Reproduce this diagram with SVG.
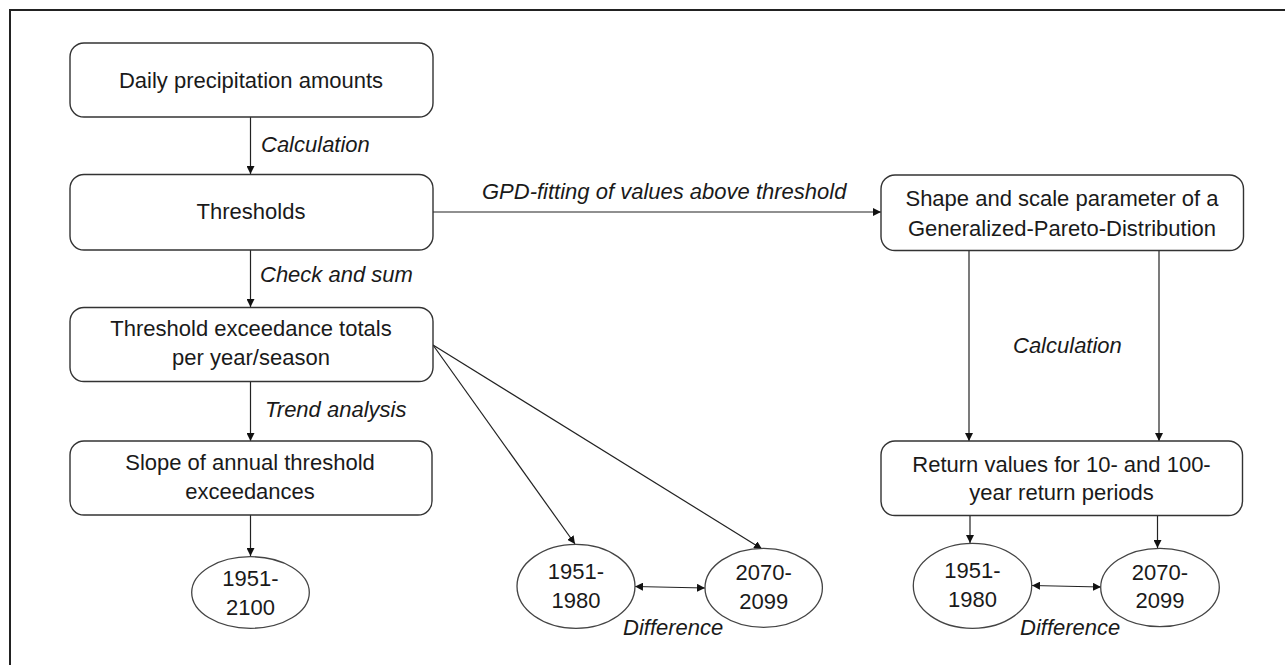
<svg xmlns="http://www.w3.org/2000/svg" width="1285" height="665" viewBox="0 0 1285 665">
<style>
.box{fill:#fff;stroke:#333;stroke-width:1.4}
.ell{fill:#fff;stroke:#444;stroke-width:1.3}
.t{font-family:"Liberation Sans",Arial,sans-serif;font-size:22px;fill:#1a1a1a;text-anchor:middle}
.lbl{font-family:"Liberation Sans",Arial,sans-serif;font-size:22px;font-style:italic;fill:#1a1a1a}
.c{fill:none;stroke:#222;stroke-width:1.2}
</style>
<defs>
<marker id="ah" viewBox="0 0 10 10" refX="10" refY="5" markerWidth="8" markerHeight="8" markerUnits="userSpaceOnUse" orient="auto">
<path d="M0,0 L10,5 L0,10 z" fill="#111"/>
</marker>
<marker id="as" viewBox="0 0 10 10" refX="0" refY="5" markerWidth="8" markerHeight="8" markerUnits="userSpaceOnUse" orient="auto">
<path d="M10,0 L0,5 L10,10 z" fill="#111"/>
</marker>
</defs>
<rect width="1285" height="665" fill="#fff"/>
<path d="M10,665 V10 H1285" fill="none" stroke="#222" stroke-width="2"/>

<g id="connectors">
<line class="c" x1="250.5" y1="117" x2="250.5" y2="174" marker-end="url(#ah)"/>
<line class="c" x1="250.5" y1="250" x2="250.5" y2="307" marker-end="url(#ah)"/>
<line class="c" x1="250.5" y1="382" x2="250.5" y2="441" marker-end="url(#ah)"/>
<line class="c" x1="250.5" y1="515" x2="250.5" y2="556" marker-end="url(#ah)"/>
<line class="c" x1="433" y1="212" x2="881" y2="212" marker-end="url(#ah)"/>
<line class="c" x1="433" y1="345" x2="575" y2="544" marker-end="url(#ah)"/>
<line class="c" x1="433" y1="345" x2="762" y2="549" marker-end="url(#ah)"/>
<line class="c" x1="635" y1="586.5" x2="705" y2="588" marker-start="url(#as)" marker-end="url(#ah)"/>
<line class="c" x1="969" y1="251" x2="969" y2="441" marker-end="url(#ah)"/>
<line class="c" x1="1159" y1="251" x2="1159" y2="441" marker-end="url(#ah)"/>
<line class="c" x1="970" y1="516" x2="970" y2="543" marker-end="url(#ah)"/>
<line class="c" x1="1157.5" y1="516" x2="1157.5" y2="548" marker-end="url(#ah)"/>
<line class="c" x1="1032" y1="585.5" x2="1101" y2="587" marker-start="url(#as)" marker-end="url(#ah)"/>
<text class="lbl" x="261" y="152">Calculation</text>
<text class="lbl" x="260" y="282">Check and sum</text>
<text class="lbl" x="265" y="417">Trend analysis</text>
<text class="lbl" x="482" y="199">GPD-fitting of values above threshold</text>
<text class="lbl" x="1013" y="353">Calculation</text>
<text class="lbl" x="623" y="635">Difference</text>
<text class="lbl" x="1020" y="635">Difference</text>
</g>

<g id="n-daily">
<rect class="box" x="70" y="43" width="363" height="74" rx="14"/>
<text class="t" x="251" y="88">Daily precipitation amounts</text>
</g>
<g id="n-thresholds">
<rect class="box" x="70" y="174.5" width="363" height="75.5" rx="14"/>
<text class="t" x="251" y="219">Thresholds</text>
</g>
<g id="n-exceedance">
<rect class="box" x="70" y="307.5" width="363" height="74" rx="14"/>
<text class="t" x="251" y="336">Threshold exceedance totals</text>
<text class="t" x="251" y="365">per year/season</text>
</g>
<g id="n-slope">
<rect class="box" x="70" y="441" width="362" height="74" rx="14"/>
<text class="t" x="250" y="470">Slope of annual threshold</text>
<text class="t" x="250" y="499">exceedances</text>
</g>
<g id="n-e1951-2100">
<ellipse class="ell" cx="250.5" cy="592.5" rx="58.8" ry="35.8"/>
<text class="t" x="250.5" y="586">1951-</text>
<text class="t" x="250.5" y="615">2100</text>
</g>
<g id="n-e1951-1980-a">
<ellipse class="ell" cx="576" cy="586.3" rx="59" ry="42"/>
<text class="t" x="576" y="579">1951-</text>
<text class="t" x="576" y="608">1980</text>
</g>
<g id="n-e2070-2099-a">
<ellipse class="ell" cx="763.7" cy="587.8" rx="58.7" ry="39.5"/>
<text class="t" x="763.7" y="580">2070-</text>
<text class="t" x="763.7" y="609">2099</text>
</g>
<g id="n-gpd">
<rect class="box" x="881" y="175" width="362.5" height="75.5" rx="14"/>
<text class="t" x="1062" y="206">Shape and scale parameter of a</text>
<text class="t" x="1062" y="236">Generalized-Pareto-Distribution</text>
</g>
<g id="n-return">
<rect class="box" x="881" y="441" width="361.5" height="74.5" rx="14"/>
<text class="t" x="1061.5" y="472">Return values for 10- and 100-</text>
<text class="t" x="1061.5" y="500">year return periods</text>
</g>
<g id="n-e1951-1980-b">
<ellipse class="ell" cx="972.5" cy="585.8" rx="59.2" ry="42.5"/>
<text class="t" x="972.5" y="578">1951-</text>
<text class="t" x="972.5" y="607">1980</text>
</g>
<g id="n-e2070-2099-b">
<ellipse class="ell" cx="1160" cy="587.5" rx="59.3" ry="39.2"/>
<text class="t" x="1160" y="580">2070-</text>
<text class="t" x="1160" y="608">2099</text>
</g>
</svg>
